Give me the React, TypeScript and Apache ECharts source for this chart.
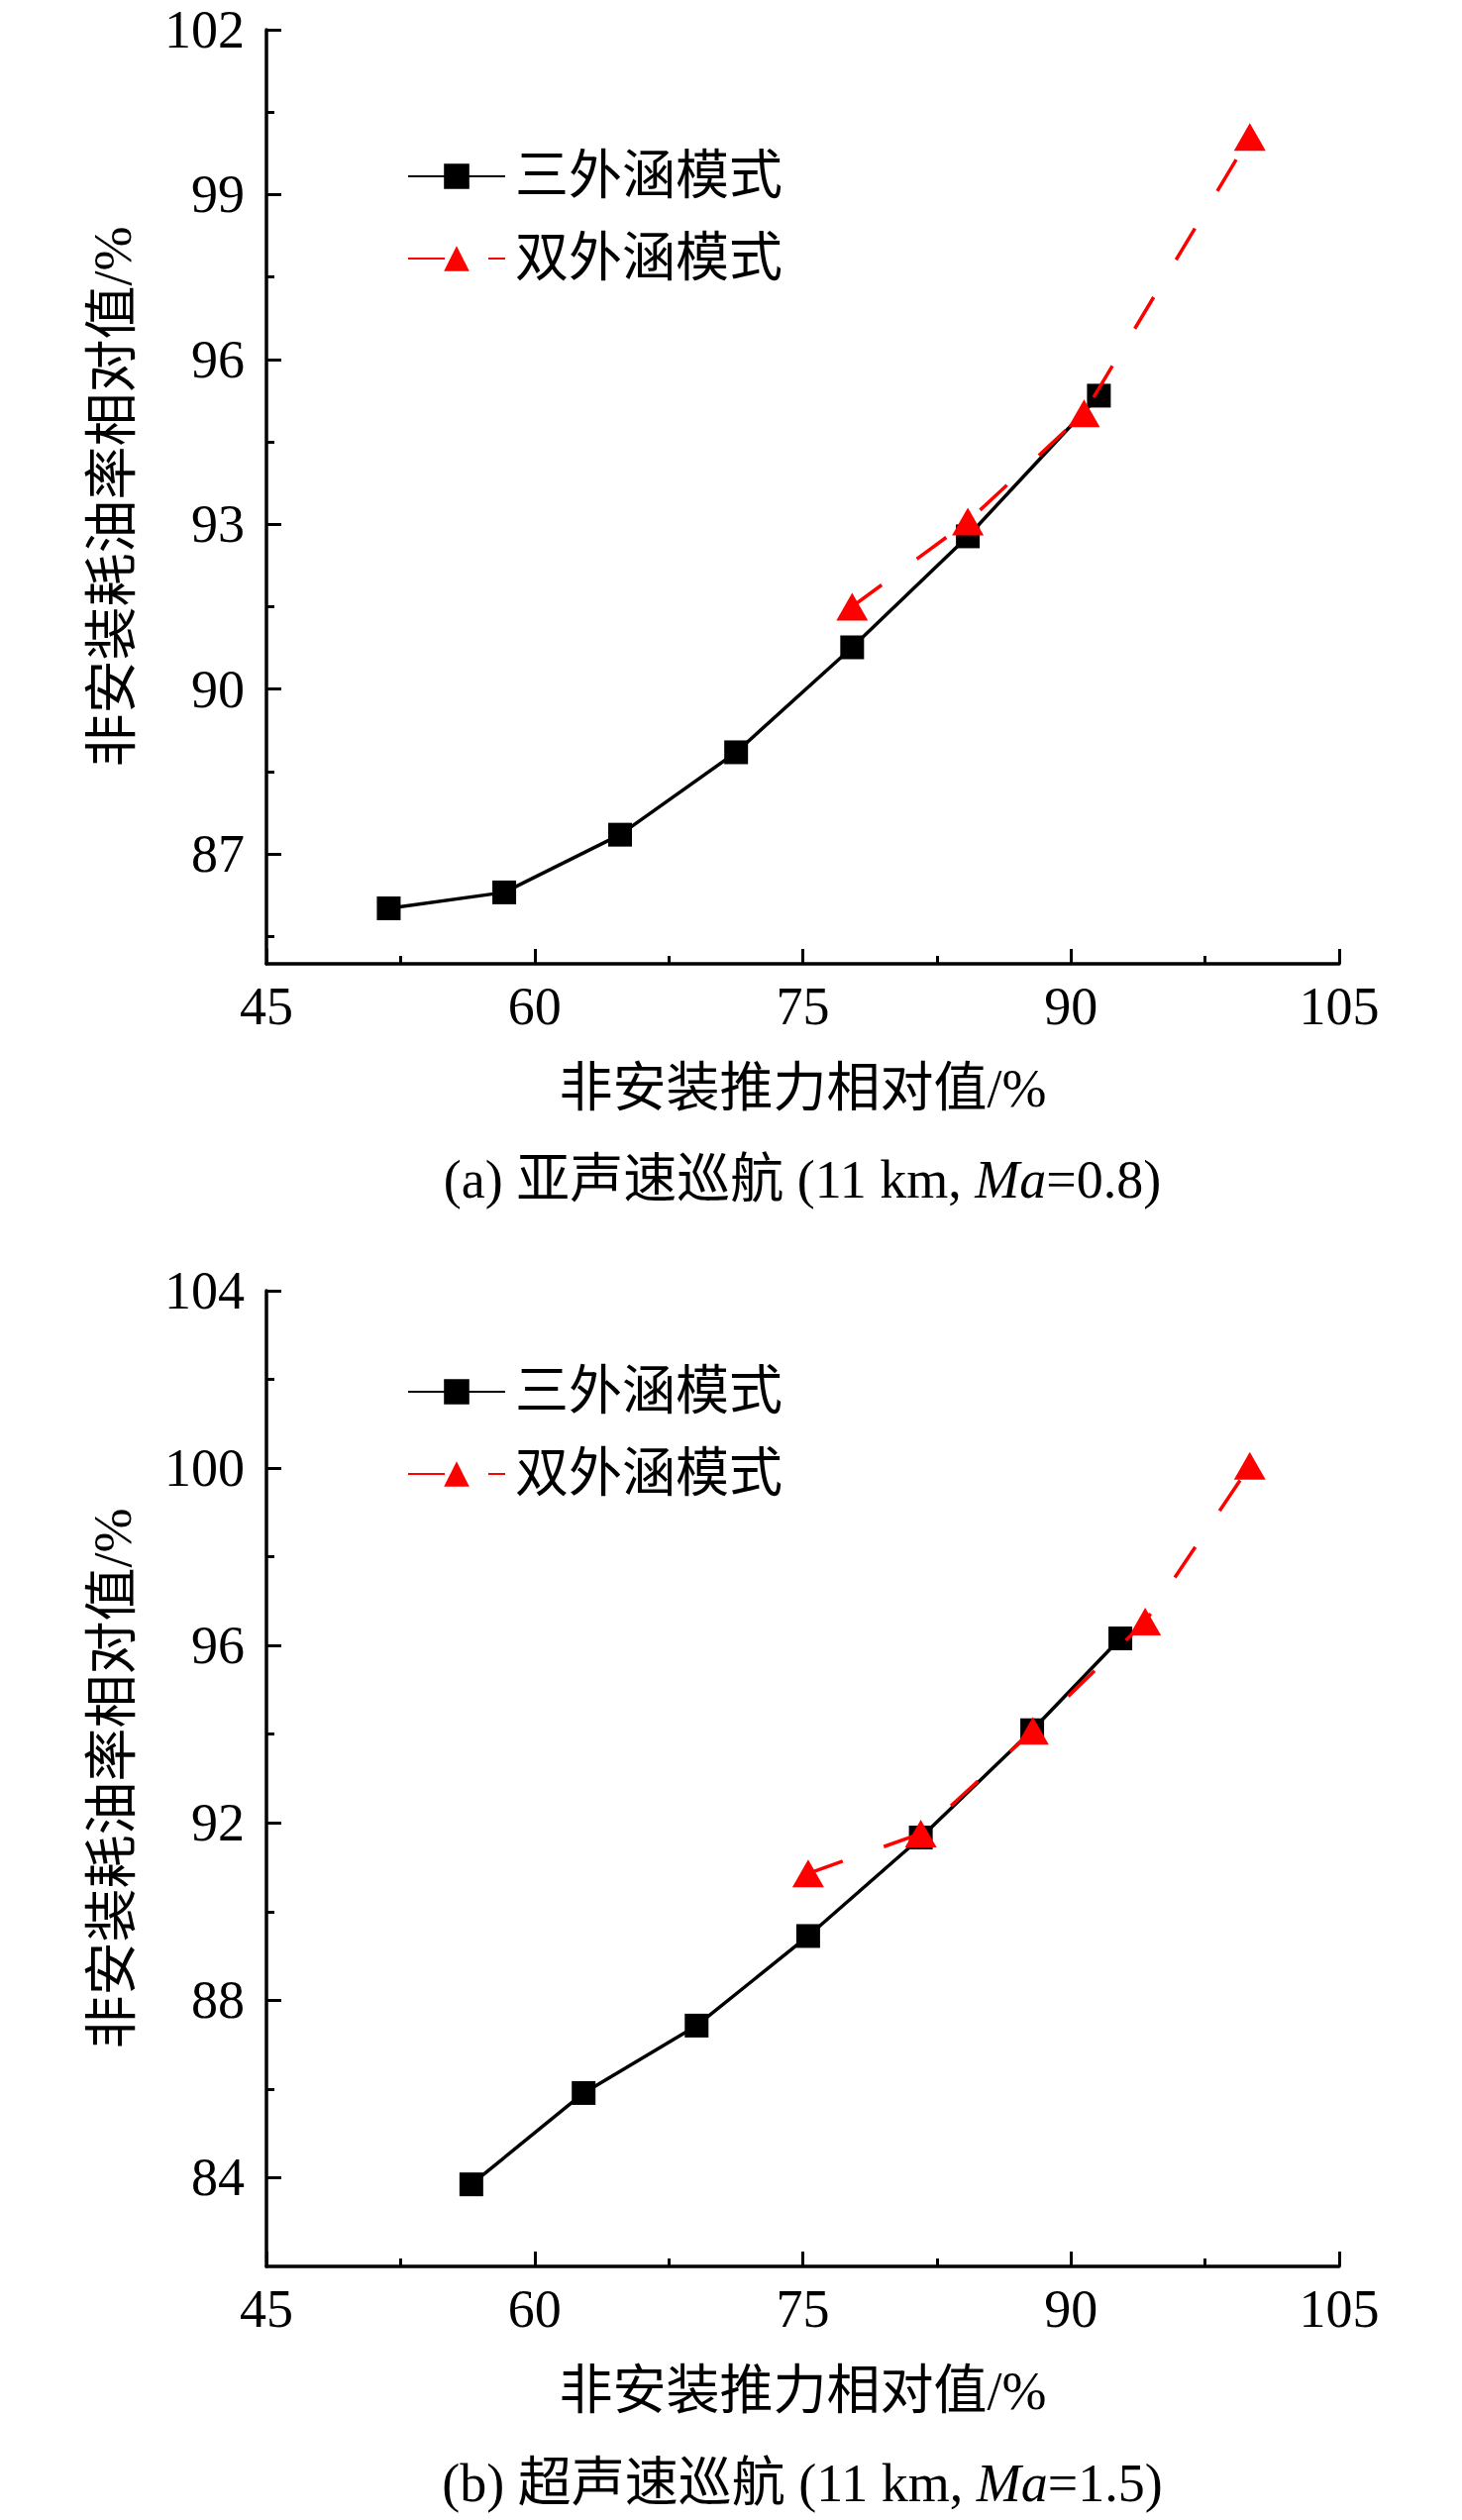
import React, { useEffect, useRef } from "react";
import * as echarts from "echarts";

// ---------- data ----------
const seriesNames = ["三外涵模式", "双外涵模式"];
const xAxisTitle = "非安装推力相对值/%";
const yAxisTitle = "非安装耗油率相对值/%";
const captionA = "(a) 亚声速巡航 (11 km, {i|Ma}=0.8)";
const captionB = "(b) 超声速巡航 (11 km, {i|Ma}=1.5)";

// (a) subsonic cruise
const subTripleX = [51.84, 58.3, 64.78, 71.27, 77.76, 84.23, 91.56];
const subTripleY = [86.01, 86.3, 87.35, 88.85, 90.76, 92.78, 95.34];
const subDualX = [77.76, 84.23, 90.73, 100.0];
const subDualY = [91.5, 93.05, 95.02, 100.05];

// (b) supersonic cruise
const supTripleX = [56.46, 62.74, 69.06, 75.3, 81.6, 87.83, 92.76];
const supTripleY = [83.85, 85.91, 87.43, 89.45, 91.67, 94.09, 96.16];
const supDualX = [75.3, 81.6, 87.87, 94.15, 100.0];
const supDualY = [90.86, 91.76, 94.08, 96.54, 100.05];

// ticks
const subYMajor = [87, 90, 93, 96, 99, 102];
const subYMinor = [85.5, 88.5, 91.5, 94.5, 97.5, 100.5];
const supYMajor = [84, 88, 92, 96, 100, 104];
const supYMinor = [86, 90, 94, 98, 102];

const FONT = "'Liberation Serif', 'Times New Roman', 'Noto Sans CJK SC', serif";
const BLACK = "#000";
const RED = "#ff0000";

const zip = (xs: number[], ys: number[]) => xs.map((x, i) => [x, ys[i]]);

function buildXAxis(gridIndex: number) {
  return {
    type: "value",
    gridIndex,
    position: "bottom",
    min: 45,
    max: 105,
    interval: 15,
    name: xAxisTitle,
    nameLocation: "middle",
    nameGap: 99,
    nameTextStyle: { fontSize: 54, fontFamily: FONT, color: BLACK },
    axisLine: { show: true, lineStyle: { color: BLACK, width: 3.5 } },
    axisTick: { show: true, inside: true, length: 15, lineStyle: { color: BLACK, width: 3 } },
    minorTick: { show: true, splitNumber: 2, length: 8, lineStyle: { color: BLACK, width: 3 } },
    axisLabel: { fontSize: 54, fontFamily: FONT, color: BLACK, margin: 16 },
    splitLine: { show: false },
    minorSplitLine: { show: false },
  };
}

function buildYAxes(gridIndex: number, min: number, max: number, major: number[], minor: number[]) {
  return [
    {
      type: "value",
      gridIndex,
      position: "left",
      offset: 0,
      min,
      max,
      name: yAxisTitle,
      nameLocation: "middle",
      nameGap: 128,
      nameTextStyle: { fontSize: 54, fontFamily: FONT, color: BLACK },
      axisLine: { show: true, lineStyle: { color: BLACK, width: 3.5 } },
      axisTick: {
        show: true,
        inside: true,
        length: 15,
        customValues: major,
        lineStyle: { color: BLACK, width: 3 },
      },
      axisLabel: {
        fontSize: 54,
        lineHeight: 40,
        fontFamily: FONT,
        color: BLACK,
        margin: 22,
        customValues: major,
      },
      splitLine: { show: false },
    },
    {
      type: "value",
      gridIndex,
      position: "left",
      offset: 0,
      min,
      max,
      axisLine: { show: false },
      axisTick: {
        show: true,
        inside: true,
        length: 8,
        customValues: minor,
        lineStyle: { color: BLACK, width: 3 },
      },
      axisLabel: { show: false },
      splitLine: { show: false },
    },
  ];
}

function buildSeries(
  xAxisIndex: number,
  yAxisIndex: number,
  tx: number[],
  ty: number[],
  dx: number[],
  dy: number[]
) {
  return [
    {
      name: seriesNames[0],
      type: "line",
      xAxisIndex,
      yAxisIndex,
      data: zip(tx, ty),
      symbol: "rect",
      symbolSize: 24,
      showAllSymbol: true,
      lineStyle: { color: BLACK, width: 3.5 },
      itemStyle: { color: BLACK },
      z: 3,
    },
    {
      name: seriesNames[1],
      type: "line",
      xAxisIndex,
      yAxisIndex,
      data: zip(dx, dy),
      symbol: "triangle",
      symbolSize: [32, 28],
      showAllSymbol: true,
      lineStyle: { color: RED, width: 3.5, type: [37, 44] },
      itemStyle: { color: RED },
      z: 4,
    },
  ];
}

function buildLegend(top: number) {
  return {
    data: seriesNames,
    orient: "vertical",
    left: 406,
    top,
    itemWidth: 98,
    itemHeight: 32,
    itemGap: 29,
    selectedMode: false,
    textStyle: {
      fontSize: 54,
      lineHeight: 54,
      fontFamily: FONT,
      color: BLACK,
      padding: [0, 0, 0, 5],
    },
  };
}

function caption(text: string, y: number) {
  return {
    type: "text",
    x: 810,
    y,
    style: {
      text,
      fontSize: 54,
      fontFamily: FONT,
      fill: BLACK,
      align: "center",
      verticalAlign: "middle",
      rich: {
        i: { fontStyle: "italic", fontSize: 54, fontFamily: FONT, fill: BLACK },
      },
    },
  };
}

const A_TOP = 30;

export default function App() {
  const ref = useRef<HTMLDivElement>(null);

  useEffect(() => {
    if (!ref.current) return;
    const chart = echarts.init(ref.current, null, { renderer: "svg" });
    const option = {
      animation: false,
      backgroundColor: "#fff",
      textStyle: { fontFamily: FONT },
      grid: [
        { left: 269, top: A_TOP, width: 1083, height: 943, containLabel: false },
        { left: 269, top: 1303, width: 1083, height: 985, containLabel: false },
      ],
      legend: [buildLegend(A_TOP + 116), buildLegend(1373)],
      xAxis: [buildXAxis(0), buildXAxis(1)],
      yAxis: [
        ...buildYAxes(0, 85, 102, subYMajor, subYMinor),
        ...buildYAxes(1, 82, 104, supYMajor, supYMinor),
      ],
      series: [
        ...buildSeries(0, 0, subTripleX, subTripleY, subDualX, subDualY),
        ...buildSeries(1, 2, supTripleX, supTripleY, supDualX, supDualY),
      ],
      graphic: [caption(captionA, 1191), caption(captionB, 2507)],
    };
    chart.setOption(option as any);
    return () => chart.dispose();
  }, []);

  return (
    <div
      ref={ref}
      style={{
        position: "absolute",
        left: 0,
        top: 0,
        width: 1476,
        height: 2544,
        background: "#fff",
      }}
    />
  );
}
